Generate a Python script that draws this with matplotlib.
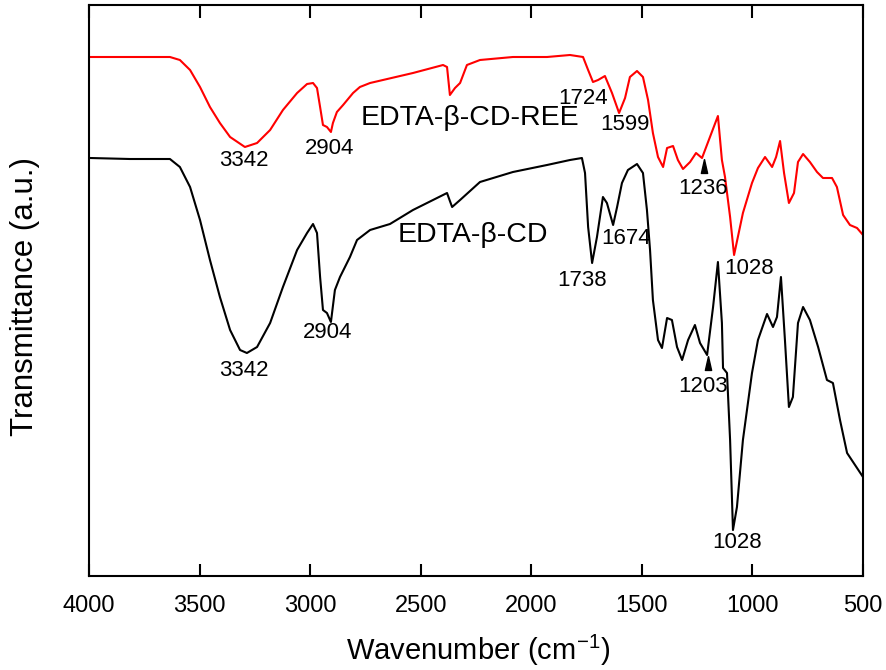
import matplotlib
matplotlib.use("Agg")
import matplotlib.pyplot as plt

plt.rcParams['font.family'] = ['Liberation Sans', 'DejaVu Sans']
plt.rcParams['mathtext.fontset'] = 'custom'
plt.rcParams['mathtext.rm'] = 'Liberation Sans'
plt.rcParams['mathtext.it'] = 'Liberation Sans:italic'

# ---- data (wavenumber in cm-1, transmittance in arbitrary offset units) ----
ree_wn = [3995, 3815, 3634, 3589, 3543, 3498, 3453, 3408, 3362, 3295, 3240, 3181,
          3123, 3059, 3014, 2987, 2969, 2955, 2942, 2924, 2906, 2897, 2879, 2851,
          2806, 2775, 2729, 2535, 2399, 2381, 2368, 2345, 2322, 2291, 2232, 2083,
          1929, 1825, 1766, 1743, 1721, 1698, 1667, 1635, 1603, 1576, 1554, 1522,
          1495, 1472, 1450, 1427, 1404, 1386, 1359, 1337, 1314, 1282, 1255, 1228,
          1192, 1156, 1138, 1124, 1101, 1083, 1043, 1002, 975, 943, 911, 893, 875,
          857, 835, 812, 794, 771, 740, 708, 681, 640, 618, 590, 559, 527, 500]
ree_t = [519, 519, 519, 516, 506, 489, 469, 453, 439, 429, 433, 446,
         466, 483, 492, 493, 488, 469, 451, 449, 444, 453, 464, 471,
         483, 489, 493, 503, 511, 509, 481, 488, 493, 511, 516, 519,
         519, 521, 519, 506, 494, 496, 500, 483, 463, 478, 499, 505,
         499, 476, 443, 419, 409, 428, 430, 416, 407, 414, 423, 418,
         439, 460, 416, 399, 359, 321, 363, 393, 408, 419, 409, 419, 435,
         403, 373, 383, 414, 422, 414, 404, 398, 398, 389, 361, 351, 348, 341]

cd_wn = [3995, 3815, 3634, 3589, 3543, 3498, 3453, 3408, 3362, 3317, 3286, 3240,
         3181, 3123, 3059, 3014, 2987, 2969, 2955, 2942, 2924, 2906, 2888, 2865,
         2820, 2788, 2729, 2639, 2535, 2381, 2368, 2358, 2322, 2232, 2083, 1929,
         1825, 1771, 1757, 1743, 1725, 1703, 1676, 1658, 1630, 1612, 1590, 1563,
         1522, 1495, 1477, 1463, 1450, 1427, 1409, 1386, 1364, 1341, 1318, 1291,
         1260, 1237, 1205, 1178, 1156, 1138, 1133, 1115, 1101, 1088, 1070, 1043,
         1002, 975, 934, 907, 889, 871, 853, 835, 817, 794, 771, 740, 703, 663,
         636, 604, 572, 536, 500]
cd_t = [418, 417, 417, 409, 389, 356, 316, 279, 246, 226, 223, 229,
        253, 289, 326, 343, 352, 343, 299, 266, 263, 254, 286, 299,
        319, 336, 346, 352, 366, 383, 375, 369, 376, 394, 404, 411,
        416, 418, 403, 349, 313, 339, 379, 373, 351, 369, 393, 406,
        412, 403, 366, 326, 276, 236, 228, 258, 256, 229, 216, 236,
        251, 233, 221, 269, 314, 253, 208, 203, 136, 46, 69, 136,
        203, 236, 262, 249, 259, 299, 236, 169, 179, 253, 269, 256, 229, 196,
        193, 156, 123, 111, 99]

ree_label = "EDTA-\u03b2-CD-REE"
cd_label = "EDTA-\u03b2-CD"

# peak annotations: (text, wavenumber, transmittance)
ree_peaks = [("3342", 3299, 416), ("2904", 2910, 428), ("1724", 1766, 478),
             ("1599", 1576, 451), ("1236", 1224, 388), ("1028", 1015, 308)]
cd_peaks = [("3342", 3299, 206), ("2904", 2919, 243), ("1738", 1771, 295),
            ("1674", 1572, 338), ("1203", 1224, 189), ("1028", 1070, 34)]
markers = [(1219, 410), (1201, 213)]

xticks = [4000, 3500, 3000, 2500, 2000, 1500, 1000, 500]

# ---- figure ----
fig = plt.figure(figsize=(8.87, 6.70), dpi=100)
ax = fig.add_axes([89/887, 1-576/670, 774/887, 571/670])

ax.plot(ree_wn, ree_t, color='#ff0000', lw=1.5)
ax.plot(cd_wn, cd_t, color='black', lw=1.5)

ax.set_xlim(4000, 500)
ax.set_ylim(0, 571)
ax.set_xticks(xticks)
ax.set_xticklabels([str(t) for t in xticks])
ax.set_yticks([])
ax.tick_params(axis='x', which='both', direction='in', top=True, bottom=True,
               length=9, width=1.5, labelsize=17, pad=14)
for s in ax.spines.values():
    s.set_linewidth(1.5)

for txt, w, t in ree_peaks + cd_peaks:
    ax.text(w, t, txt, fontsize=16, ha='center', va='center')

ax.text(2277, 458, ree_label, fontsize=20.5, ha='center', va='center')
ax.text(2264, 341, cd_label, fontsize=20.5, ha='center', va='center')

tri = [(0, 1), (-0.45, -1), (0.45, -1), (0, 1)]
for w, t in markers:
    ax.plot([w], [t], marker=tri, markersize=10, color='black', linestyle='none')

ax.set_xlabel("Wavenumber (cm$^{\\mathregular{-1}}$)", fontsize=21)
ax.set_ylabel("Transmittance (a.u.)", fontsize=22.5)
ax.xaxis.label.set_va('center')
ax.yaxis.label.set_va('center')
ax.xaxis.set_label_coords((478-89)/774, (576-650)/571)
ax.yaxis.set_label_coords((25-89)/774, (576-297)/571)

fig.savefig("out.png", dpi=100)
